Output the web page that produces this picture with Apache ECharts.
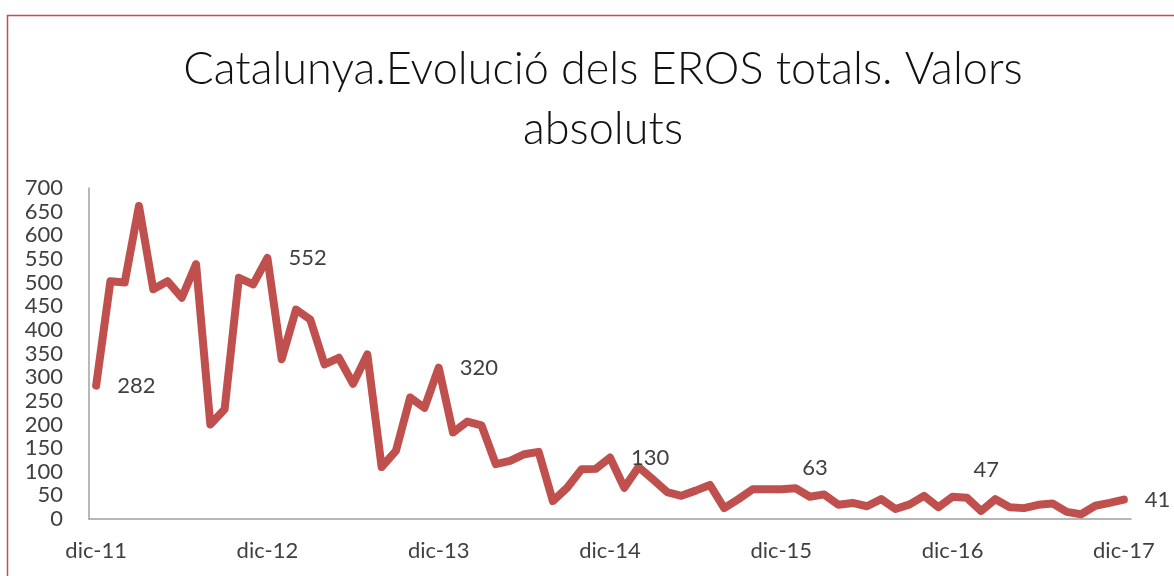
<!DOCTYPE html>
<html>
<head>
<meta charset="utf-8">
<script src="https://cdn.jsdelivr.net/npm/echarts@6/dist/echarts.min.js"></script>
<style>
html,body{margin:0;padding:0;background:#fff;}
#chart{width:1174px;height:576px;}
</style>
</head>
<body>
<div id="chart"></div>
<script>
// mesos (abreviatura com al gràfic) i anys
var mesos = ['ene','feb','mar','abr','may','jun','jul','ago','sep','oct','nov','dic'];
var anys = [11, 12, 13, 14, 15, 16, 17];

// EROS totals, de dic-11 a dic-17 (llegit del gràfic)
var eros = [
    282, 503, 500, 662, 486, 503, 468, 539, 200, 232, 510, 496,
    552, 338, 443, 422, 327, 341, 286, 348, 110, 144, 257, 235,
    320, 183, 206, 198, 116, 123, 137, 142, 38, 66, 105, 106,
    130, 66, 110, 84, 57, 49, 60, 72, 23, 42, 63, 63,
    63, 65, 47, 52, 30, 34, 27, 42, 21, 31, 49, 25,
    47, 45, 17, 42, 25, 23, 30, 33, 15, 10, 28, 34,
    41
];

// punts amb etiqueta (cada desembre)
var etiquetes = [0, 12, 24, 36, 48, 60, 72];
var etiquetesAmunt = {48: -21, 60: -27};

var yTicks = {min: 0, max: 700, interval: 50};

var categories = [];
categories.push('dic-' + anys[0]);
for (var a = 1; a < anys.length; a++) {
    for (var m = 0; m < 12; m++) {
        categories.push(mesos[m] + '-' + anys[a]);
    }
}

var data = [];
for (var i = 0; i < eros.length; i++) {
    if (etiquetes.indexOf(i) >= 0) {
        var off = etiquetesAmunt[i] || 0;
        data.push({
            value: eros[i],
            label: {show: true, offset: [0, off]}
        });
    } else {
        data.push(eros[i]);
    }
}

var textColor = '#404040';
var font = 'Lato';

var myChart = echarts.init(document.getElementById('chart'));
var option = {
    animation: false,
    title: {
        text: 'Catalunya.Evolució dels EROS totals. Valors\nabsoluts',
        left: 598,
        textAlign: 'center',
        top: 34,
        textStyle: {
            fontFamily: font,
            fontWeight: 300,
            fontSize: 45,
            lineHeight: 60,
            color: '#111'
        }
    },
    graphic: [{
        type: 'rect',
        shape: {x: 7.5, y: 15.5, width: 1300, height: 700},
        style: {fill: 'none', stroke: '#C0504D', lineWidth: 1.5},
        silent: true
    }],
    grid: {
        left: 89,
        right: 43,
        top: 188,
        bottom: 57,
        containLabel: false
    },
    xAxis: {
        type: 'category',
        data: categories,
        boundaryGap: true,
        axisLine: {lineStyle: {color: '#a0a0a0', width: 1.5}},
        axisTick: {show: false},
        axisLabel: {
            interval: 11,
            margin: 21,
            fontFamily: font,
            fontSize: 22,
            color: textColor
        },
        splitLine: {show: false}
    },
    yAxis: {
        type: 'value',
        min: yTicks.min,
        max: yTicks.max,
        interval: yTicks.interval,
        axisLine: {show: true, lineStyle: {color: '#a0a0a0', width: 1.5}},
        axisTick: {show: false},
        axisLabel: {
            margin: 26,
            fontFamily: font,
            fontSize: 22,
            color: textColor
        },
        splitLine: {show: false}
    },
    series: [{
        type: 'line',
        data: data,
        symbol: 'circle',
        symbolSize: 2,
        showSymbol: true,
        itemStyle: {color: 'rgba(0,0,0,0)'},
        lineStyle: {color: '#C0504D', width: 8, cap: 'round', join: 'round'},
        label: {
            show: false,
            position: 'right',
            distance: 20,
            fontFamily: font,
            fontSize: 22,
            color: textColor
        },
        emphasis: {disabled: true}
    }]
};
myChart.setOption(option);
</script>
</body>
</html>
